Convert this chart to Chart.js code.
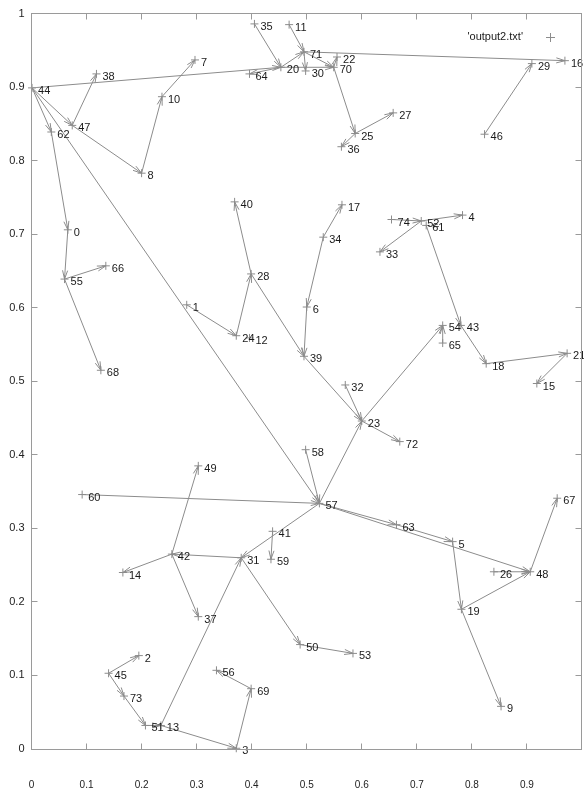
<!DOCTYPE html>
<html>
<head>
<meta charset="utf-8">
<script src="https://cdn.jsdelivr.net/npm/chart.js@4/dist/chart.umd.min.js"></script>
<style>
  html, body { margin: 0; padding: 0; background: #fff; overflow: hidden; }
  #wrap { width: 584px; height: 791px; overflow: hidden; position: relative; }
  #c { display: block; }
</style>
</head>
<body>
<div id="wrap"><canvas id="c" width="584" height="791" style="width:584px;height:791px"></canvas></div>
<script>
// node ids and their coordinates
const nodeIds = [
  0, 1, 2, 3, 4, 5, 6, 7, 8, 9,
  10, 11, 12, 13, 14, 15, 16, 17, 18, 19,
  20, 21, 22, 23, 24, 25, 26, 27, 28, 29,
  30, 31, 32, 33, 34, 35, 36, 37, 38, 39,
  40, 41, 42, 43, 44, 45, 46, 47, 48, 49,
  50, 51, 52, 53, 54, 55, 56, 57, 58, 59,
  60, 61, 62, 63, 64, 65, 66, 67, 68, 69,
  70, 71, 72, 73, 74
];
const nodeX = [
  0.066, 0.282, 0.195, 0.372, 0.783, 0.765, 0.500, 0.297, 0.200, 0.853,
  0.237, 0.468, 0.396, 0.235, 0.166, 0.918, 0.969, 0.564, 0.826, 0.781,
  0.453, 0.973, 0.555, 0.600, 0.372, 0.588, 0.840, 0.657, 0.399, 0.909,
  0.498, 0.381, 0.570, 0.633, 0.530, 0.405, 0.563, 0.303, 0.118, 0.495,
  0.369, 0.438, 0.255, 0.780, 0.001, 0.140, 0.823, 0.074, 0.906, 0.303,
  0.488, 0.207, 0.708, 0.584, 0.747, 0.060, 0.336, 0.523, 0.498, 0.435,
  0.092, 0.717, 0.036, 0.663, 0.396, 0.747, 0.135, 0.955, 0.126, 0.399,
  0.549, 0.495, 0.669, 0.168, 0.654
];
const nodeY = [
  0.706, 0.604, 0.127, 0.001, 0.726, 0.282, 0.601, 0.937, 0.783, 0.058,
  0.887, 0.985, 0.559, 0.032, 0.240, 0.497, 0.936, 0.740, 0.524, 0.190,
  0.927, 0.538, 0.941, 0.446, 0.562, 0.837, 0.241, 0.865, 0.646, 0.932,
  0.922, 0.260, 0.495, 0.676, 0.696, 0.986, 0.819, 0.180, 0.918, 0.534,
  0.744, 0.296, 0.265, 0.576, 0.899, 0.103, 0.836, 0.848, 0.241, 0.385,
  0.142, 0.032, 0.718, 0.130, 0.576, 0.639, 0.107, 0.334, 0.407, 0.258,
  0.346, 0.712, 0.839, 0.305, 0.918, 0.552, 0.657, 0.341, 0.515, 0.082,
  0.927, 0.948, 0.418, 0.072, 0.720
];

// directed links between nodes (tail -> head)
const linkFrom = [
  44, 44, 44, 47, 47, 8, 10, 44, 62, 0,
  55, 55, 20, 35, 20, 11, 71, 71, 20, 70,
  71, 70, 25, 25, 46, 28, 24, 1, 28, 39,
  34, 6, 34, 32, 23, 57, 23, 65, 61, 43,
  18, 21, 52, 52, 74, 58, 60, 57, 41, 57,
  63, 57, 5, 19, 48, 26, 19, 31, 42, 42,
  42, 31, 50, 13, 13, 3, 69, 45, 45, 73,
  51
];
const linkTo = [
  20, 62, 47, 38, 8, 10, 7, 57, 0, 55,
  66, 68, 64, 20, 71, 71, 16, 70, 70, 22,
  30, 25, 27, 36, 29, 40, 28, 24, 39, 23,
  6, 39, 17, 23, 72, 23, 54, 54, 43, 18,
  21, 15, 4, 33, 52, 57, 57, 31, 59, 63,
  5, 48, 19, 48, 67, 48, 9, 42, 14, 49,
  37, 50, 53, 31, 3, 69, 56, 2, 73, 51,
  13
];

// axis ticks; the frame spans 0..1 on both axes, the page shows x up to just under 1
const xTicks = [0, 0.1, 0.2, 0.3, 0.4, 0.5, 0.6, 0.7, 0.8, 0.9, 1];
const yTicks = [0, 0.1, 0.2, 0.3, 0.4, 0.5, 0.6, 0.7, 0.8, 0.9, 1];
const xVisibleMax = 0.9946;
const seriesName = "'output2.txt'";

const LINE = '#8c8c8c';
const FONT = '"Liberation Sans", Arial, Helvetica, sans-serif';

const points = nodeIds.map((id, i) => ({ x: nodeX[i], y: nodeY[i] }));

// arrows drawn with the chart's scales
const arrowPlugin = {
  id: 'arrows',
  beforeDatasetsDraw(chart) {
    const { ctx, scales: { x, y } } = chart;
    ctx.save();
    ctx.strokeStyle = LINE;
    ctx.lineWidth = 1;
    const headLen = 9, headAng = Math.PI / 11;
    for (let k = 0; k < linkFrom.length; k++) {
      const a = linkFrom[k], b = linkTo[k];
      const x0 = x.getPixelForValue(nodeX[a]), y0 = y.getPixelForValue(nodeY[a]);
      const x1 = x.getPixelForValue(nodeX[b]), y1 = y.getPixelForValue(nodeY[b]);
      ctx.beginPath();
      ctx.moveTo(x0, y0);
      ctx.lineTo(x1, y1);
      const ang = Math.atan2(y1 - y0, x1 - x0);
      ctx.moveTo(x1 - headLen * Math.cos(ang - headAng), y1 - headLen * Math.sin(ang - headAng));
      ctx.lineTo(x1, y1);
      ctx.lineTo(x1 - headLen * Math.cos(ang + headAng), y1 - headLen * Math.sin(ang + headAng));
      ctx.stroke();
    }
    ctx.restore();
  },
  afterDatasetsDraw(chart) {
    const { ctx, scales: { x, y } } = chart;
    ctx.save();
    ctx.fillStyle = '#1a1a1a';
    ctx.font = '11px ' + FONT;
    ctx.textBaseline = 'middle';
    ctx.textAlign = 'left';
    nodeIds.forEach((id, i) => {
      ctx.fillText(String(id), x.getPixelForValue(nodeX[i]) + 6, y.getPixelForValue(nodeY[i]) + 3);
    });
    ctx.restore();
  }
};

// frame with inward ticks on all four sides, plus the key
const framePlugin = {
  id: 'frame',
  afterDraw(chart) {
    const { ctx, scales: { x, y } } = chart;
    const L = Math.floor(x.getPixelForValue(0)) + 0.5;
    const R = Math.floor(x.getPixelForValue(1)) + 0.5;
    const T = Math.floor(y.getPixelForValue(1)) + 0.5;
    const B = Math.floor(y.getPixelForValue(0)) + 0.5;
    ctx.save();
    ctx.strokeStyle = '#9a9a9a';
    ctx.lineWidth = 1;
    ctx.strokeRect(L, T, R - L, B - T);
    const t = 6;
    ctx.beginPath();
    xTicks.forEach(v => {
      const px = Math.floor(x.getPixelForValue(v)) + 0.5;
      ctx.moveTo(px, B); ctx.lineTo(px, B - t);
      ctx.moveTo(px, T); ctx.lineTo(px, T + t);
    });
    yTicks.forEach(v => {
      const py = Math.floor(y.getPixelForValue(v)) + 0.5;
      ctx.moveTo(L, py); ctx.lineTo(L + t, py);
      ctx.moveTo(R, py); ctx.lineTo(R - t, py);
    });
    ctx.stroke();

    // key
    ctx.fillStyle = '#1a1a1a';
    ctx.font = '11px ' + FONT;
    ctx.textAlign = 'right';
    ctx.textBaseline = 'middle';
    ctx.fillText(seriesName, 523, 37);
    ctx.strokeStyle = LINE;
    ctx.beginPath();
    ctx.moveTo(546, 37.5); ctx.lineTo(555, 37.5);
    ctx.moveTo(550.5, 33); ctx.lineTo(550.5, 42);
    ctx.stroke();
    ctx.restore();
  }
};

new Chart(document.getElementById('c'), {
  type: 'scatter',
  data: {
    datasets: [{
      label: seriesName,
      data: points,
      pointStyle: 'cross',
      pointRadius: 4,
      pointHoverRadius: 4,
      borderColor: LINE,
      backgroundColor: LINE,
      borderWidth: 1,
      clip: false
    }]
  },
  options: {
    responsive: false,
    animation: false,
    events: [],
    layout: { padding: { top: 13, right: 0, left: 0, bottom: 0 } },
    plugins: {
      legend: { display: false },
      tooltip: { enabled: false }
    },
    scales: {
      x: {
        type: 'linear',
        min: 0, max: xVisibleMax,
        afterBuildTicks: s => { s.ticks = xTicks.filter(v => v <= xVisibleMax).map(v => ({ value: v })); },
        afterFit: s => { s.height = 42; s.paddingLeft = 0; s.paddingRight = 0; },
        grid: { display: false, drawTicks: false },
        border: { display: false },
        ticks: {
          autoSkip: false,
          maxRotation: 0,
          padding: 30,
          color: '#222',
          font: { family: FONT, size: 10 },
          callback: v => String(Math.round(v * 10) / 10)
        }
      },
      y: {
        type: 'linear',
        min: 0, max: 1,
        afterBuildTicks: s => { s.ticks = yTicks.map(v => ({ value: v })); },
        afterFit: s => { s.width = 31.5; },
        grid: { display: false, drawTicks: false },
        border: { display: false },
        ticks: {
          autoSkip: false,
          padding: 7,
          color: '#222',
          font: { family: FONT, size: 11 },
          callback: v => String(Math.round(v * 10) / 10)
        }
      }
    }
  },
  plugins: [arrowPlugin, framePlugin]
});
</script>
</body>
</html>
